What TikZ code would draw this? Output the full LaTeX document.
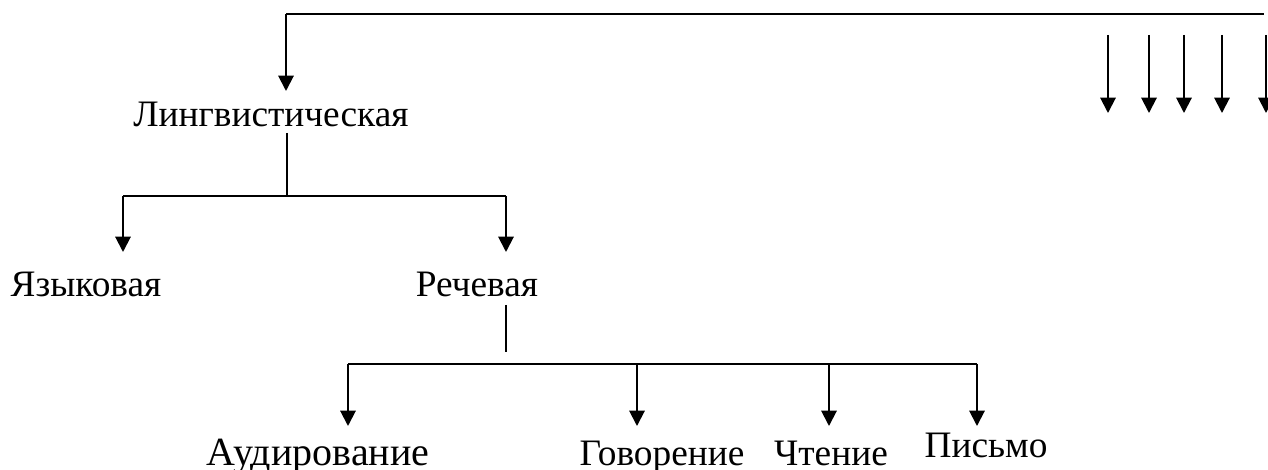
\documentclass[tikz,border=0pt]{standalone}
\usepackage{fontspec}
\setmainfont{Liberation Serif}
\usetikzlibrary{arrows.meta}
\begin{document}
\begin{tikzpicture}[x=0.75pt,y=-0.75pt,
  ln/.style={line width=1.5pt},
  arr/.style={line width=1.5pt,-{Triangle[length=11.5pt,width=11.5pt]}},
  lbl/.style={anchor=base,inner sep=0pt,font=\fontsize{28}{32}\selectfont}]
\useasboundingbox (0,0) rectangle (1268,470);
% labels
\node[lbl] (ling) at (271,127) {Лингвистическая};
\node[lbl] (yaz) at (86,297) {Языковая};
\node[lbl] (rech) at (477,297) {Речевая};
\node[lbl,font=\fontsize{30}{32}\selectfont] (aud) at (318,465) {Аудирование};
\node[lbl] (gov) at (662,465) {Говорение};
\node[lbl] (cht) at (831,465) {Чтение};
\node[lbl] (pis) at (986,457) {Письмо};
% coordinates
\coordinate (tl) at (286,14);
\coordinate (tr) at (1264,14);
\coordinate (lingtip) at (286,91);
\coordinate (lingb) at (287,133);
\coordinate (j1) at (287,196);
\coordinate (h1l) at (123,196);
\coordinate (h1r) at (506,196);
\coordinate (yaztip) at (123,252);
\coordinate (rechtip) at (506,252);
\coordinate (rechb) at (506,305);
\coordinate (j2) at (506,352);
\coordinate (h2l) at (348,364);
\coordinate (h2r) at (977,364);
\coordinate (g2) at (637,364);
\coordinate (c2) at (829,364);
% top
\draw[ln] (tl) -- (tr);
\draw[arr] (tl) -- (lingtip);
\foreach \x in {1108,1149,1184,1222,1266}
  \draw[arr] (\x,35) -- (\x,113);
% level 2
\draw[ln] (lingb) -- (j1);
\draw[ln] (h1l) -- (h1r);
\draw[arr] (h1l) -- (yaztip);
\draw[arr] (h1r) -- (rechtip);
% level 3
\draw[ln] (rechb) -- (j2);
\draw[ln] (h2l) -- (h2r);
\draw[arr] (h2l) -- (348,426);
\draw[arr] (g2) -- (637,426);
\draw[arr] (c2) -- (829,426);
\draw[arr] (h2r) -- (977,426);
\end{tikzpicture}
\end{document}
